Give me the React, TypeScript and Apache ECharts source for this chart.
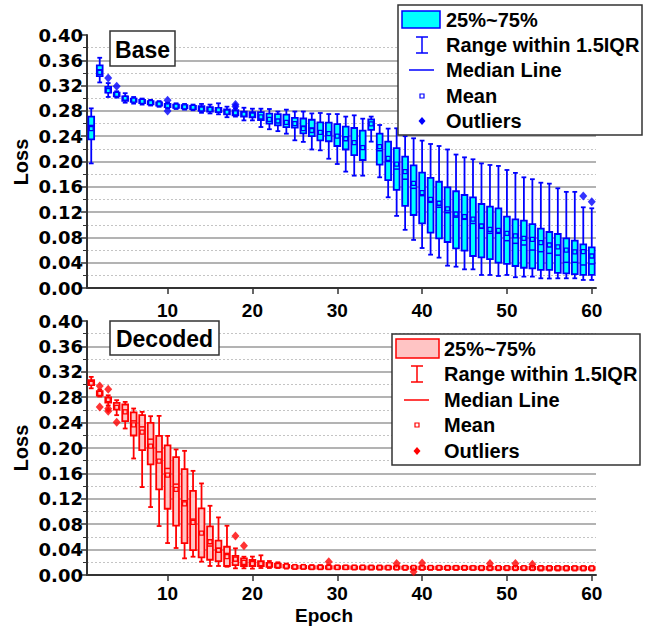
import React, { useEffect, useRef } from "react";
import * as echarts from "echarts";

const epochs: number[] = Array.from({ length: 60 }, (_, i) => i + 1);
const xTicks = [10, 20, 30, 40, 50, 60];

// ---- Base (top) ----
const topMin = [0.197,0.325,0.302,0.301,0.293,0.2915,0.290,0.2885,0.2865,0.284, 0.283,0.282,0.281,0.277,0.276,0.2746,0.270,0.271,0.265,0.265, 0.2545,0.251,0.248,0.244,0.2335,0.231,0.219,0.2177,0.2044,0.196, 0.184,0.1776,0.1776,0.2314,0.175,0.1434,0.114,0.092,0.076,0.0632, 0.0527,0.048,0.0353,0.0337,0.0295,0.0295,0.0206,0.0206,0.019,0.0206, 0.017,0.018,0.018,0.0153,0.015,0.0153,0.0153,0.0153,0.0127,0.0127];
const topQ1 = [0.235,0.335,0.309,0.303,0.296,0.2945,0.2925,0.2905,0.2885,0.286, 0.285,0.284,0.283,0.280,0.279,0.278,0.2746,0.273,0.271,0.270, 0.2656,0.260,0.257,0.2545,0.2535,0.2446,0.240,0.2335,0.232,0.2245, 0.219,0.210,0.2024,0.250,0.195,0.1707,0.155,0.130,0.1154,0.1023, 0.0875,0.0785,0.0727,0.0627,0.059,0.0506,0.0485,0.0458,0.040,0.038, 0.0348,0.032,0.031,0.0285,0.0285,0.024,0.023,0.022,0.0206,0.0206];
const topMed = [0.257,0.345,0.313,0.306,0.300,0.297,0.295,0.293,0.291,0.2885, 0.2875,0.2865,0.2857,0.2845,0.283,0.281,0.2785,0.277,0.275,0.274, 0.271,0.267,0.266,0.264,0.262,0.256,0.253,0.248,0.247,0.242, 0.238,0.231,0.225,0.2585,0.217,0.200,0.188,0.172,0.1576,0.146, 0.1355,0.1276,0.119,0.112,0.1086,0.102,0.0944,0.0865,0.0865,0.0748, 0.0706,0.068,0.060,0.0574,0.0548,0.052,0.0406,0.0406,0.0364,0.038];
const topQ3 = [0.271,0.352,0.318,0.309,0.303,0.2995,0.2975,0.2955,0.2935,0.291, 0.290,0.289,0.288,0.2877,0.286,0.2846,0.2825,0.281,0.279,0.278, 0.278,0.2756,0.275,0.274,0.269,0.268,0.266,0.262,0.2614,0.259, 0.255,0.253,0.2487,0.2667,0.244,0.2314,0.221,0.2076,0.194,0.1823, 0.174,0.168,0.159,0.153,0.147,0.1434,0.1328,0.1285,0.126,0.1127, 0.1086,0.1064,0.101,0.0938,0.0885,0.0854,0.0785,0.0748,0.069,0.0643];
const topMax = [0.284,0.364,0.324,0.311,0.308,0.302,0.2995,0.2975,0.2955,0.293, 0.292,0.291,0.290,0.291,0.290,0.292,0.2867,0.284,0.285,0.2835, 0.2835,0.283,0.279,0.282,0.279,0.279,0.276,0.2767,0.275,0.275, 0.271,0.273,0.2677,0.271,0.2577,0.252,0.2525,0.240,0.2367,0.233, 0.2277,0.2245,0.219,0.211,0.2066,0.2035,0.197,0.1945,0.193,0.1866, 0.182,0.175,0.172,0.1665,0.165,0.1576,0.152,0.152,0.1276,0.126];
const topMean = [0.252,0.341,0.312,0.306,0.300,0.297,0.295,0.293,0.291,0.288, 0.2875,0.2865,0.2855,0.283,0.2825,0.2815,0.278,0.277,0.275,0.2735, 0.2705,0.2665,0.264,0.262,0.260,0.252,0.249,0.246,0.244,0.240, 0.236,0.230,0.222,0.2595,0.2234,0.205,0.196,0.184,0.1655,0.1507, 0.140,0.134,0.125,0.117,0.113,0.109,0.098,0.0928,0.091,0.0865, 0.0823,0.0785,0.077,0.0717,0.068,0.065,0.060,0.057,0.0574,0.0506];
const topOutliers: [number, number][] = [[3,0.332],[4,0.319],[10,0.297],[10,0.280],[18,0.290],[18,0.287],[59,0.1455],[60,0.1365]];

// ---- Decoded (bottom) ----
const botMin = [0.294,0.281,0.267,0.2517,0.2307,0.1835,0.1384,0.107,0.0771,0.0503, 0.0425,0.0262,0.0288,0.021,0.0142,0.0142,0.013,0.0105,0.0105,0.010, 0.011,0.011,0.011,0.010,0.0095,0.0095,0.009,0.009,0.009,0.009, 0.009,0.0085,0.0085,0.0085,0.0085,0.0085,0.0085,0.008,0.008,0.008, 0.008,0.008,0.008,0.008,0.008,0.008,0.0075,0.0075,0.0075,0.0075, 0.0075,0.0075,0.0075,0.007,0.007,0.007,0.007,0.007,0.007,0.007];
const botQ1 = [0.299,0.2826,0.2716,0.2606,0.2422,0.2197,0.1966,0.1741,0.1348,0.1043, 0.0776,0.0503,0.0393,0.0278,0.024,0.022,0.0142,0.0157,0.0142,0.0142, 0.014,0.013,0.012,0.0115,0.0105,0.0105,0.010,0.010,0.010,0.010, 0.0098,0.0098,0.0098,0.0096,0.0096,0.0096,0.0095,0.0095,0.0095,0.0093, 0.0093,0.0093,0.0092,0.0092,0.0092,0.009,0.009,0.009,0.009,0.0088, 0.0088,0.0088,0.0088,0.0087,0.0087,0.0087,0.0086,0.0086,0.0086,0.0085];
const botMed = [0.303,0.286,0.275,0.2667,0.2595,0.2427,0.2333,0.2139,0.1939,0.1678, 0.1431,0.117,0.088,0.068,0.0456,0.042,0.034,0.022,0.020,0.019, 0.018,0.016,0.015,0.0135,0.0125,0.0125,0.012,0.012,0.012,0.0118, 0.0118,0.0117,0.0117,0.0116,0.0116,0.0115,0.0115,0.0114,0.0114,0.0113, 0.0113,0.0113,0.0112,0.0112,0.0112,0.0111,0.0111,0.011,0.011,0.011, 0.011,0.0109,0.0109,0.0108,0.0108,0.0108,0.0107,0.0107,0.0106,0.0106];
const botQ3 = [0.3067,0.2894,0.2795,0.271,0.2685,0.256,0.2517,0.2396,0.2191,0.204, 0.1856,0.1667,0.1326,0.1049,0.0766,0.054,0.0445,0.030,0.0262,0.0236, 0.022,0.019,0.018,0.016,0.0145,0.0145,0.014,0.014,0.014,0.0138, 0.0138,0.0136,0.0136,0.0135,0.0135,0.0134,0.0134,0.0133,0.0133,0.0132, 0.0132,0.0132,0.0131,0.0131,0.013,0.013,0.013,0.0129,0.0129,0.0129, 0.0128,0.0128,0.0128,0.0127,0.0127,0.0127,0.0126,0.0126,0.0126,0.0125];
const botMax = [0.312,0.292,0.283,0.2753,0.2726,0.2622,0.2569,0.2501,0.2506,0.2191, 0.1977,0.1955,0.164,0.1442,0.109,0.0907,0.0776,0.042,0.0288,0.029, 0.031,0.022,0.020,0.018,0.016,0.016,0.0155,0.0155,0.0155,0.015, 0.015,0.015,0.015,0.0148,0.0148,0.0148,0.0147,0.0147,0.0147,0.0146, 0.0146,0.0146,0.0145,0.0145,0.0145,0.0144,0.0144,0.0144,0.0143,0.0143, 0.0143,0.0142,0.0142,0.0142,0.0141,0.0141,0.0141,0.014,0.014,0.014];
const botMean = [0.302,0.286,0.276,0.264,0.2569,0.2364,0.2249,0.2029,0.1793,0.1573, 0.1348,0.112,0.083,0.066,0.0524,0.039,0.029,0.025,0.020,0.018, 0.018,0.016,0.015,0.014,0.0127,0.0127,0.0122,0.0122,0.0122,0.012, 0.012,0.0119,0.0119,0.0118,0.0118,0.0117,0.0117,0.0116,0.0116,0.0115, 0.0115,0.0115,0.0114,0.0114,0.0114,0.0113,0.0113,0.0112,0.0112,0.0112, 0.0112,0.0111,0.0111,0.011,0.011,0.011,0.0109,0.0109,0.0108,0.0108];
const botOutliers: [number, number][] = [[2,0.2978],[2,0.2647],[3,0.2926],[3,0.262],[3,0.258],[4,0.2407],[18,0.0613],[19,0.046],[29,0.021],[37,0.018],[39,0.005],[40,0.019],[48,0.018],[51,0.018],[53,0.017]];

const yTickLabel = (v: number) => v.toFixed(2);

const BLUE = "#0000FF";
const CYAN = "#00FFFF";
const RED = "#FF0000";
const PINK = "#FFC4C4";
const FONT = "Liberation Sans, Arial, sans-serif";

function boxData(mn: number[], q1: number[], md: number[], q3: number[], mx: number[], mean: number[]) {
  return epochs.map((e, i) => [e, mn[i], q1[i], md[i], q3[i], mx[i], mean[i]]);
}

function makeRenderer(stroke: string, fill: string) {
  return (params: any, api: any) => {
    const x = api.value(0);
    const pMin = api.coord([x, api.value(1)]);
    const pQ1 = api.coord([x, api.value(2)]);
    const pMed = api.coord([x, api.value(3)]);
    const pQ3 = api.coord([x, api.value(4)]);
    const pMax = api.coord([x, api.value(5)]);
    const pMean = api.coord([x, api.value(6)]);
    const cx = pMed[0];
    const hw = 2.9;
    const cw = 2.4;
    const lw = 1.8;
    return {
      type: "group",
      children: [
        { type: "line", shape: { x1: cx, y1: pMax[1], x2: cx, y2: pMin[1] }, style: { stroke, lineWidth: lw } },
        { type: "line", shape: { x1: cx - cw, y1: pMax[1], x2: cx + cw, y2: pMax[1] }, style: { stroke, lineWidth: lw } },
        { type: "line", shape: { x1: cx - cw, y1: pMin[1], x2: cx + cw, y2: pMin[1] }, style: { stroke, lineWidth: lw } },
        { type: "rect", shape: { x: cx - hw, y: pQ3[1], width: 2 * hw, height: Math.max(pQ1[1] - pQ3[1], 1.5) }, style: { fill, stroke, lineWidth: lw } },
        { type: "line", shape: { x1: cx - hw, y1: pMed[1], x2: cx + hw, y2: pMed[1] }, style: { stroke, lineWidth: 1.5 } },
        { type: "rect", shape: { x: cx - 2, y: pMean[1] - 2, width: 4, height: 4 }, style: { fill, stroke, lineWidth: 1.3 } },
      ],
    };
  };
}

function yAxis(gridIndex: number) {
  return {
    type: "value",
    gridIndex,
    min: 0,
    max: 0.4,
    interval: 0.04,
    axisLine: { show: true, lineStyle: { color: "#333", width: 2 } },
    axisTick: { show: true, inside: false, length: 6, lineStyle: { color: "#333", width: 1.5 } },
    minorTick: { show: true, splitNumber: 2, length: 4, lineStyle: { color: "#333", width: 1 } },
    axisLabel: { formatter: yTickLabel, fontFamily: "DejaVu Sans", fontWeight: "bold", fontSize: 18, color: "#000", margin: 4 },
    splitLine: { show: true, showMaxLine: false, lineStyle: { color: "#9a9a9a", width: 1.5 } },
    minorSplitLine: { show: true, lineStyle: { color: "#c4c4c4", width: 1, type: [2, 2] } },
  };
}

function xAxis(gridIndex: number, margin: number) {
  return {
    type: "value",
    gridIndex,
    min: 0.5,
    max: 60.5,
    axisLine: { show: true, onZero: false, lineStyle: { color: "#333", width: 2 } },
    axisTick: { show: true, customValues: xTicks, length: 6, lineStyle: { color: "#333", width: 1.5 } },
    axisLabel: { customValues: xTicks, fontFamily: FONT, fontWeight: "bold", fontSize: 19, color: "#000", margin },
    splitLine: { show: false },
  };
}

function legendGraphics(x0: number, y0: number, w: number, h: number, sw: any, stroke: string, fill: string, barX: number, rows: number[], textX: number) {
  const txt = (t: string, y: number) => ({
    type: "text", x: textX, y, z: 101,
    style: { text: t, font: `bold 20px ${FONT}`, fill: "#000", verticalAlign: "middle" },
  });
  return [
    { type: "rect", z: 100, shape: { x: x0, y: y0, width: w, height: h }, style: { fill: "#fff", stroke: "#333", lineWidth: 1.5 } },
    { type: "rect", z: 101, shape: sw, style: { fill, stroke, lineWidth: 1.5 } },
    txt("25%~75%", rows[0]),
    { type: "line", z: 101, shape: { x1: barX, y1: rows[1] - 8, x2: barX, y2: rows[1] + 8 }, style: { stroke, lineWidth: 1.5 } },
    { type: "line", z: 101, shape: { x1: barX - 6, y1: rows[1] - 8, x2: barX + 6, y2: rows[1] - 8 }, style: { stroke, lineWidth: 1.5 } },
    { type: "line", z: 101, shape: { x1: barX - 6, y1: rows[1] + 8, x2: barX + 6, y2: rows[1] + 8 }, style: { stroke, lineWidth: 1.5 } },
    txt("Range within 1.5IQR", rows[1]),
    { type: "line", z: 101, shape: { x1: barX - 13, y1: rows[2], x2: barX + 12, y2: rows[2] }, style: { stroke, lineWidth: 1.5 } },
    txt("Median Line", rows[2]),
    { type: "rect", z: 101, shape: { x: barX - 2, y: rows[3] - 2, width: 4, height: 4 }, style: { fill: "#fff", stroke, lineWidth: 1.2 } },
    txt("Mean", rows[3]),
    { type: "polygon", z: 101, shape: { points: [[barX, rows[4] - 4], [barX + 3.5, rows[4]], [barX, rows[4] + 4], [barX - 3.5, rows[4]]] }, style: { fill: stroke } },
    txt("Outliers", rows[4]),
  ];
}

function titleBox(x: number, y: number, w: number, h: number, t: string) {
  return [
    { type: "rect", z: 100, shape: { x, y, width: w, height: h }, style: { fill: "#fff", stroke: "#333", lineWidth: 1.5 } },
    { type: "text", z: 101, x: x + w / 2, y: y + h / 2 + 1, style: { text: t, font: `bold 23px ${FONT}`, fill: "#000", align: "center", verticalAlign: "middle" } },
  ];
}

export default function App() {
  const ref = useRef<HTMLDivElement>(null);
  useEffect(() => {
    if (!ref.current) return;
    const chart = echarts.init(ref.current, undefined, { renderer: "svg" });
    const option: any = {
      animation: false,
      backgroundColor: "#fff",
      grid: [
        { left: 87, top: 35, width: 509, height: 253 },
        { left: 87, top: 321, width: 509, height: 254 },
      ],
      xAxis: [xAxis(0, 13), xAxis(1, 9)],
      yAxis: [yAxis(0), yAxis(1)],
      series: [
        {
          type: "custom", name: "Base", xAxisIndex: 0, yAxisIndex: 0,
          renderItem: makeRenderer(BLUE, CYAN),
          encode: { x: 0, y: [1, 2, 3, 4, 5, 6] },
          data: boxData(topMin, topQ1, topMed, topQ3, topMax, topMean),
          z: 3,
        },
        {
          type: "scatter", xAxisIndex: 0, yAxisIndex: 0, symbol: "diamond", symbolSize: [8, 9],
          itemStyle: { color: BLUE }, data: topOutliers, z: 4,
        },
        {
          type: "custom", name: "Decoded", xAxisIndex: 1, yAxisIndex: 1,
          renderItem: makeRenderer(RED, PINK),
          encode: { x: 0, y: [1, 2, 3, 4, 5, 6] },
          data: boxData(botMin, botQ1, botMed, botQ3, botMax, botMean),
          z: 3,
        },
        {
          type: "scatter", xAxisIndex: 1, yAxisIndex: 1, symbol: "diamond", symbolSize: [8, 9],
          itemStyle: { color: RED }, data: botOutliers, z: 4,
        },
      ],
      graphic: [
        ...titleBox(110, 31, 65, 35, "Base"),
        ...titleBox(110, 321, 109, 34, "Decoded"),
        ...legendGraphics(398, 5, 244, 130, { x: 402, y: 11, width: 38, height: 17 }, BLUE, CYAN, 422, [20, 45, 70, 96, 121], 446),
        ...legendGraphics(392, 334, 248, 131, { x: 396, y: 339, width: 43, height: 19 }, RED, PINK, 417, [349, 374, 400, 425, 451], 444),
        { type: "text", x: 21, y: 162, rotation: Math.PI / 2, z: 101, style: { text: "Loss", font: `bold 20px ${FONT}`, fill: "#000", align: "center", verticalAlign: "middle" } },
        { type: "text", x: 21, y: 448, rotation: Math.PI / 2, z: 101, style: { text: "Loss", font: `bold 20px ${FONT}`, fill: "#000", align: "center", verticalAlign: "middle" } },
        { type: "text", x: 324, y: 615, z: 101, style: { text: "Epoch", font: `bold 19px ${FONT}`, fill: "#000", align: "center", verticalAlign: "middle" } },
      ],
    };
    chart.setOption(option);
    return () => chart.dispose();
  }, []);
  return <div ref={ref} style={{ position: "fixed", left: 0, top: 0, width: 651, height: 626 }} />;
}
